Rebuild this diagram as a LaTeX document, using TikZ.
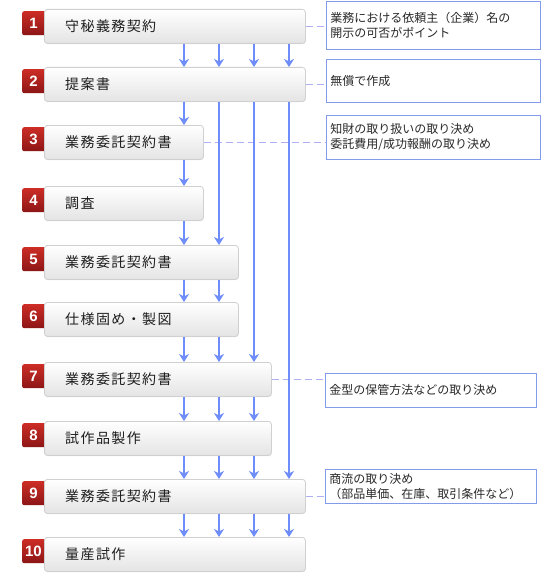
\documentclass[tikz,border=0pt]{standalone}
\usepackage{fontspec}
\usetikzlibrary{arrows.meta,shadows,calc}
\newfontfamily\jpfont[LetterSpace=10]{Noto Sans CJK JP}
\newfontfamily\notefont{Noto Sans CJK JP}
\newfontfamily\numfont{Liberation Sans}
\definecolor{boxline}{RGB}{208,208,208}
\definecolor{boxbot}{RGB}{228,228,228}
\definecolor{badgetop}{RGB}{205,45,38}
\definecolor{badgebot}{RGB}{140,22,22}
\definecolor{notecol}{RGB}{130,155,235}
\definecolor{dashcol}{RGB}{175,175,245}
\definecolor{arrcol}{RGB}{110,140,250}
\definecolor{labelcol}{RGB}{30,30,30}
\definecolor{notetext}{RGB}{40,40,40}
\begin{document}
\begin{tikzpicture}[x=1pt,y=-1pt,
  stepbox/.style={draw=boxline, line width=0.8pt, rounded corners=3pt, top color=white, middle color=white, bottom color=boxbot,
    minimum height=34pt, anchor=north west, inner sep=0pt,
    drop shadow={shadow xshift=0.3pt, shadow yshift=-0.8pt, opacity=0.15, fill=gray}},
  badge/.style={rounded corners=2pt, top color=badgetop, bottom color=badgebot,
    minimum width=28pt, minimum height=24pt, anchor=north west, inner sep=0pt},
  num/.style={text=white, font=\numfont\bfseries\fontsize{15}{15}\selectfont, inner sep=0pt},
  lbl/.style={anchor=west, text=labelcol, font=\jpfont\fontsize{14}{14}\selectfont, inner sep=0pt},
  note/.style={draw=notecol, line width=0.8pt, fill=white, anchor=north west, inner xsep=4pt, inner ysep=0pt,
    align=left, font=\notefont\fontsize{12}{15}\selectfont, text=notetext},
  conn/.style={draw=dashcol, dash pattern=on 7pt off 4pt, line width=0.8pt},
  arr/.style={draw=arrcol, line width=1.8pt, -{Stealth[length=8pt,width=10pt,inset=2.5pt]}}
]
\useasboundingbox (0,0) rectangle (542,578);
\fill[white] (0,0) rectangle (542,578);

\foreach \i/\t/\w/\lab in {1/9/261/守秘義務契約, 2/67/261/提案書, 3/125/159/業務委託契約書,
  4/186/159/調査, 5/245/194/業務委託契約書, 6/302/194/仕様固め・製図, 7/362/227/業務委託契約書,
  8/421/227/試作品製作, 9/479/261/業務委託契約書, 10/537/261/量産試作}{
  \node[badge] (k\i) at (22,\t+2) {};
  \node[stepbox, minimum width=\w pt] (b\i) at (44,\t) {};
  \node[num] (m\i) at (33.5,\t+14.5) {\i};
  \node[lbl] (t\i) at (65,\t+17) {\lab};
}

\node[note, minimum width=214pt, minimum height=48pt, text width=206pt] (n1) at (326,1)
  {業務における依頼主（企業）名の\\開示の可否がポイント};
\node[note, minimum width=214pt, minimum height=43pt, text width=206pt] (n2) at (326,59)
  {無償で作成};
\node[note, minimum width=214pt, minimum height=44pt, text width=206pt] (n3) at (326,115)
  {知財の取り扱いの取り決め\\委託費用/成功報酬の取り決め};
\node[note, minimum width=211pt, minimum height=34pt, text width=203pt] (n4) at (325,373)
  {金型の保管方法などの取り決め};
\node[note, minimum width=211pt, minimum height=34pt, text width=203pt] (n5) at (325,469)
  {商流の取り決め\\（部品単価、在庫、取引条件など）};

\draw[conn] (b1.east) -- (b1.east -| n1.west);
\draw[conn] (b2.east) -- (b2.east -| n2.west);
\draw[conn] (b3.east) -- (b3.east -| n3.west);
\draw[conn] (b7.east) -- (b7.east -| n4.west);
\draw[conn] (b9.east) -- (b9.east -| n5.west);

\coordinate (c1) at (184,0);
\coordinate (c2) at (219,0);
\coordinate (c3) at (254,0);
\coordinate (c4) at (289,0);

\foreach \a/\b in {1/2,2/3,3/4,4/5,5/6,6/7,7/8,8/9,9/10}
  \draw[arr] (b\a.south -| c1) -- (b\b.north -| c1);
\foreach \a/\b in {1/2,2/5,5/6,6/7,7/8,8/9,9/10}
  \draw[arr] (b\a.south -| c2) -- (b\b.north -| c2);
\foreach \a/\b in {1/2,2/7,7/8,8/9,9/10}
  \draw[arr] (b\a.south -| c3) -- (b\b.north -| c3);
\foreach \a/\b in {1/2,2/9,9/10}
  \draw[arr] (b\a.south -| c4) -- (b\b.north -| c4);
\end{tikzpicture}
\end{document}
